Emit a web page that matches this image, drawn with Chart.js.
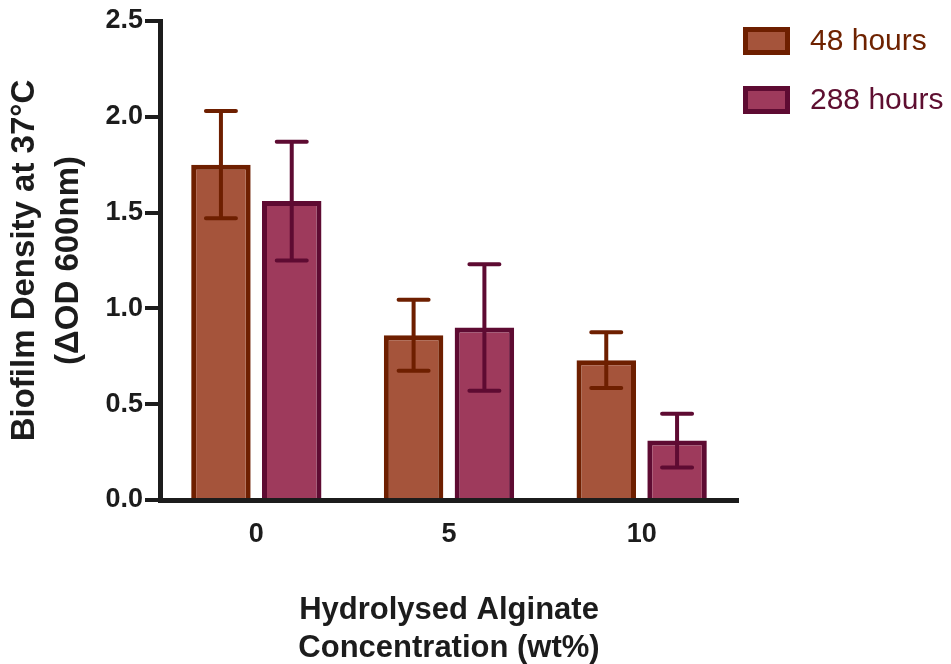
<!DOCTYPE html>
<html>
<head>
<meta charset="utf-8">
<script src="https://cdn.jsdelivr.net/npm/chart.js@4.4.0/dist/chart.umd.min.js"></script>
<style>
  html, body { margin: 0; padding: 0; background: #ffffff; }
  #biofilmchart { display: block; }
</style>
</head>
<body>
<canvas id="biofilmchart" width="951" height="664"></canvas>
<script>
// concentrations on the x axis
var concentrations = ["0", "5", "10"];
var seriesNames = ["48 hours", "288 hours"];
// mean density and error for each series
var density48 = [1.75, 0.86, 0.73];
var error48 = [0.28, 0.185, 0.145];
var density288 = [1.56, 0.90, 0.31];
var error288 = [0.31, 0.33, 0.14];
var yTicks = [0, 0.5, 1.0, 1.5, 2.0, 2.5];

var fillColours = ["#a5543b", "#9e3a5c"];
var lineColours = ["#6e1f00", "#5e0b32"];
var textColours = ["#6e2200", "#5e0e30"];
var axisColour = "#1c1c1c";
var fontname = '"Liberation Sans", Arial, Helvetica, sans-serif';

// error bars drawn on top of each bar
var errorbars = {
  id: 'errorbars',
  afterDatasetsDraw: function(chart) {
    var ctx = chart.ctx;
    var yscale = chart.scales.y;
    chart.data.datasets.forEach(function(ds, i) {
      var meta = chart.getDatasetMeta(i);
      meta.data.forEach(function(bar, j) {
        var v = ds.data[j];
        var e = ds.errors[j];
        var top = yscale.getPixelForValue(v + e);
        var bottom = yscale.getPixelForValue(v - e);
        ctx.save();
        ctx.strokeStyle = ds.borderColor;
        ctx.lineWidth = 4;
        ctx.lineCap = 'round';
        ctx.beginPath();
        ctx.moveTo(bar.x, top);
        ctx.lineTo(bar.x, bottom);
        ctx.moveTo(bar.x - 15, top);
        ctx.lineTo(bar.x + 15, top);
        ctx.moveTo(bar.x - 15, bottom);
        ctx.lineTo(bar.x + 15, bottom);
        ctx.stroke();
        ctx.restore();
      });
    });
  }
};

// legend at top right, text coloured like the bar outline
var sidelegend = {
  id: 'sidelegend',
  afterDraw: function(chart) {
    var ctx = chart.ctx;
    ctx.save();
    chart.data.datasets.forEach(function(ds, i) {
      var cy = 41 + i * 59;
      ctx.fillStyle = ds.backgroundColor;
      ctx.strokeStyle = ds.borderColor;
      ctx.lineWidth = 5;
      ctx.fillRect(745.5, cy - 11.5, 42, 23);
      ctx.strokeRect(745.5, cy - 11.5, 42, 23);
      ctx.fillStyle = textColours[i];
      ctx.font = '30px ' + fontname;
      ctx.textAlign = 'left';
      ctx.textBaseline = 'middle';
      ctx.fillText(ds.label, 810, cy + 1);
    });
    ctx.restore();
  }
};

var ctxB = document.getElementById("biofilmchart").getContext('2d');
var biofilmChart = new Chart(ctxB, {
  type: 'bar',
  data: {
    labels: concentrations,
    datasets: [{
      label: seriesNames[0],
      data: density48,
      errors: error48,
      backgroundColor: fillColours[0],
      borderColor: lineColours[0],
      borderWidth: 5,
      borderSkipped: 'start'
    }, {
      label: seriesNames[1],
      data: density288,
      errors: error288,
      backgroundColor: fillColours[1],
      borderColor: lineColours[1],
      borderWidth: 5,
      borderSkipped: 'start'
    }]
  },
  options: {
    responsive: false,
    animation: false,
    categoryPercentage: 0.735,
    barPercentage: 0.84,
    layout: {
      padding: { top: 21, right: 213, bottom: 0, left: 0 }
    },
    plugins: {
      legend: { display: false },
      tooltip: { enabled: false }
    },
    scales: {
      x: {
        z: 1,
        offset: true,
        grid: { display: false, drawTicks: false },
        border: { display: true, color: axisColour, width: 5 },
        ticks: {
          color: axisColour,
          padding: 18,
          font: { family: fontname, size: 27, weight: 'bold' }
        },
        title: {
          display: true,
          text: ['Hydrolysed Alginate', 'Concentration (wt%)'],
          color: axisColour,
          padding: { top: 0, bottom: -4 },
          font: { family: fontname, size: 31, weight: 'bold', lineHeight: 1.24 }
        },
        afterFit: function(scale) { scale.height = 164; }
      },
      y: {
        z: 1,
        min: 0,
        max: 2.5,
        afterBuildTicks: function(scale) {
          scale.ticks = yTicks.map(function(v) { return { value: v }; });
        },
        grid: {
          drawOnChartArea: false,
          drawTicks: true,
          tickLength: 15,
          lineWidth: 4,
          color: axisColour
        },
        border: { display: true, color: axisColour, width: 5 },
        ticks: {
          color: axisColour,
          padding: 2,
          font: { family: fontname, size: 27, weight: 'bold' },
          callback: function(value) { return Number(value).toFixed(1); }
        },
        title: {
          display: true,
          text: ['Biofilm Density at 37°C', '(ΔOD 600nm)'],
          color: axisColour,
          padding: { top: 2, bottom: 0 },
          font: { family: fontname, size: 33, weight: 'bold', lineHeight: 1.36 }
        },
        afterFit: function(scale) { scale.width = 160; }
      }
    }
  },
  plugins: [errorbars, sidelegend]
});
</script>
</body>
</html>
